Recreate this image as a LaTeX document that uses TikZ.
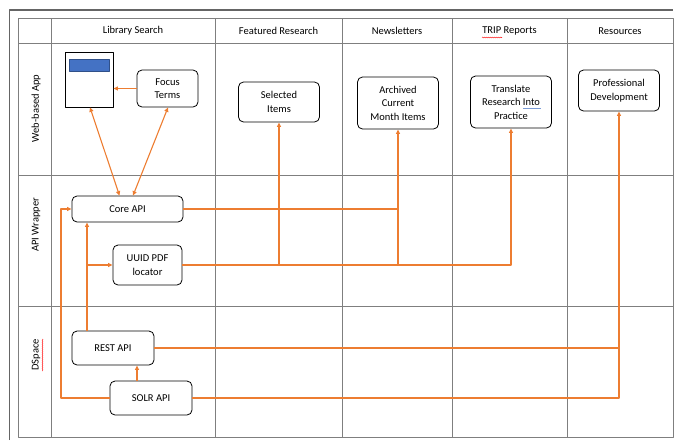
\documentclass[tikz,border=0pt]{standalone}
\usepackage{fontspec}
\setmainfont{Carlito}
\usetikzlibrary{arrows.meta,decorations.pathmorphing}
\definecolor{lineorange}{HTML}{ED7D31}
\definecolor{barblue}{HTML}{4472C4}
\definecolor{gridgray}{HTML}{7F7F7F}
\tikzset{
  box/.style={draw, rounded corners=5pt, line width=0.8pt, align=center, inner sep=1pt},
  link/.style={draw=lineorange, line width=1.1pt},
  arr/.style={link, -{Triangle[length=4.5pt,width=4pt]}},
  arrs/.style={link, {Triangle[length=4.5pt,width=4pt]}-{Triangle[length=4.5pt,width=4pt]}},
}
\begin{document}
\begin{tikzpicture}[x=1pt, y=-1pt, font=\fontsize{10.5}{13.5}\selectfont, line join=round]
			\useasboundingbox (0,0) rectangle (675,440);
			% outer frame
			\draw[gridgray!80!black, line width=1.3pt] (9.5,440) -- (9.5,10) -- (673,10);
			% lanes
			\draw[gridgray, line width=0.7pt] (18,18) rectangle (673,437);
			\foreach \x in {51,215,342,452,567}
				\draw[gridgray, line width=0.7pt] (\x,18) -- (\x,437);
			\foreach \y in {43,175,306}
				\draw[gridgray, line width=0.7pt] (18,\y) -- (673,\y);
			% column titles
			\node (hlib) at (133,31) {Library Search};
			\node (hfeat) at (278.5,31) {Featured Research};
			\node (hnews) at (397,31) {Newsletters};
			\node (htrip) at (509.5,31) {TRIP Reports};
			\node (hres) at (620,31) {Resources};
			% row titles
			\node[rotate=90] (rweb) at (36,108.5) {Web-based App};
			\node[rotate=90] (rapi) at (36,225) {API Wrapper};
			\node[rotate=90] (rds) at (36,355) {DSpace};
			% spelling marks
			\draw[red, line width=0.5pt, decorate, decoration={snake, amplitude=0.5pt, segment length=2pt}] (482,37.5) -- (502,37.5);
			\draw[red, line width=0.5pt, decorate, decoration={snake, amplitude=0.5pt, segment length=2pt}] (42.5,339) -- (42.5,371);
			\draw[barblue!70, line width=0.6pt] (523,108) -- (541,108);
			% nodes
			\node[draw, line width=0.8pt, minimum width=48pt, minimum height=55pt] (page) at (89,79.5) {};
			\node[fill=barblue, draw=barblue!70!black, line width=0.4pt, minimum width=40pt, minimum height=12pt, inner sep=0pt] (bar) at (89,65) {};
			\node[box, minimum width=61pt, minimum height=37pt] (focus) at (167.5,88.5) {Focus\\Terms};
			\node[box, minimum width=81pt, minimum height=40pt] (sel) at (279,102) {Selected\\Items};
			\node[box, minimum width=81pt, minimum height=52pt] (arch) at (398,103) {Archived\\Current\\Month Items};
			\node[box, minimum width=81pt, minimum height=52pt] (trans) at (511,102) {Translate\\Research Into\\Practice};
			\node[box, minimum width=81pt, minimum height=41pt] (prof) at (619,90.5) {Professional\\Development};
			\node[box, minimum width=111pt, minimum height=26pt] (core) at (127.5,209) {Core API};
			\node[box, minimum width=69pt, minimum height=40pt] (uuid) at (147.5,265) {UUID PDF\\locator};
			\node[box, minimum width=82pt, minimum height=34pt] (rest) at (113,348) {REST API};
			\node[box, minimum width=82pt, minimum height=34pt] (solr) at (151,398) {SOLR API};
			\coordinate (vx) at (87,0);
			\coordinate (lx) at (61,0);
			% connectors
			\draw[arr] (focus.west) -- (focus.west -| page.east);
			\draw[arrs] ([xshift=-8pt]core.north) -- ([xshift=1pt]page.south);
			\draw[arrs] ([xshift=5.5pt]core.north) -- ([xshift=0.5pt]focus.south);
			\draw[link] (core.east) -- (core.east -| arch.south);
			\draw[arr] (uuid.east) -| (trans.south);
			\draw[arr] (uuid.east -| sel.south) -- (sel.south);
			\draw[arr] (uuid.east -| arch.south) -- (arch.south);
			\draw[arr] (rest.north -| vx) -- (core.south -| vx);
			\draw[arr] (uuid.west -| vx) -- (uuid.west);
			\draw[arr] ([xshift=-14pt]solr.north) -- ([xshift=-14pt]solr.north |- rest.south);
			\draw[arr] (solr.west) -- (solr.west -| lx) |- (core.west);
			\draw[link] (rest.east) -- (rest.east -| prof.south);
			\draw[arr] (solr.east) -| (prof.south);
		\end{tikzpicture}
\end{document}
